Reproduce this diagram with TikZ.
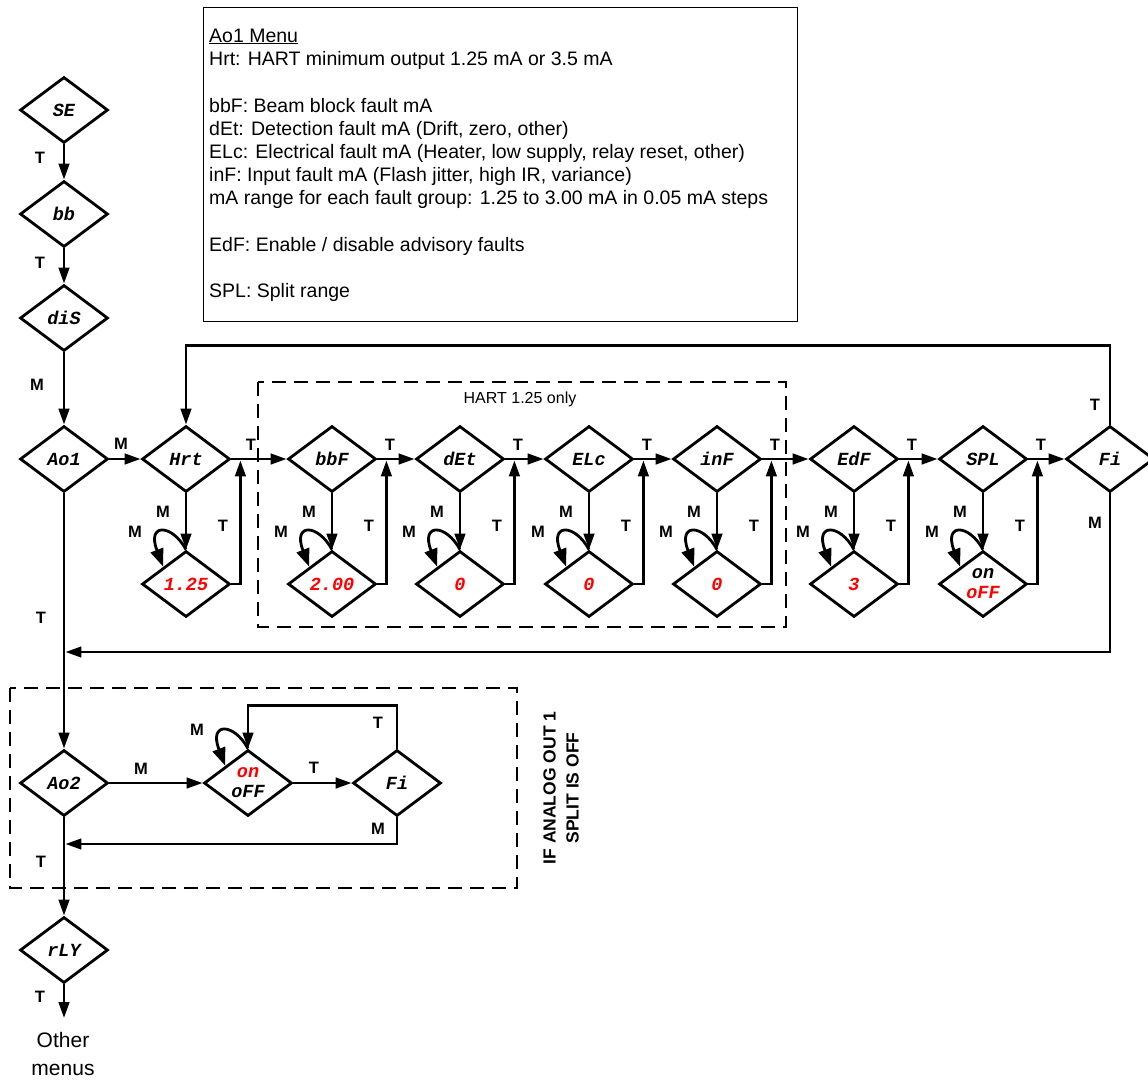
\documentclass[tikz,border=0pt]{standalone}
\usepackage{fontspec}
\setmainfont{Liberation Sans}
\newfontfamily\dmono{Liberation Mono}
\usetikzlibrary{shapes.geometric,arrows.meta,calc}
\definecolor{vred}{RGB}{255,0,0}
\tikzset{
  dia/.style={diamond, draw, line width=2.8pt, minimum width=88pt, minimum height=66pt, inner sep=0pt,
    font=\dmono\bfseries\itshape\fontsize{18.5}{20}\selectfont},
  dlab/.style={align=center, inner sep=0pt, font=\dmono\bfseries\itshape\fontsize{18.5}{20}\selectfont},
  arr/.style={line width=2.8pt, -{Triangle[length=16pt,width=10.5pt]}},
  loopa/.style={line width=2.8pt, -{Triangle[length=18pt,width=13pt]}},
  lbl/.style={font=\bfseries\fontsize{16.5}{16.5}\selectfont, inner sep=0pt},
  dbox/.style={draw, line width=2pt, dash pattern=on 14pt off 8pt},
  mtext/.style={anchor=base west, inner sep=0pt, font=\fontsize{19.5}{23}\selectfont},
}
\begin{document}
\begin{tikzpicture}[x=1pt,y=-1pt]
\useasboundingbox (0,0) rectangle (1148,1080);

% dashed boxes
\draw[dbox] (258,382) rectangle (786,627);
\node[font=\fontsize{16}{16}\selectfont, inner sep=0pt] (hartlbl) at (520,399) {HART 1.25 only};
\draw[dbox] (10,688) rectangle (517,888);
\node[rotate=90, align=center, inner sep=0pt, font=\bfseries\fontsize{17.5}{23}\selectfont] (iflbl) at (561,788) {IF ANALOG OUT 1\\SPLIT IS OFF};

% menu text box
\node[draw, line width=1.2pt, minimum width=594pt, minimum height=314pt, anchor=north west, inner sep=0pt] (menubox) at (203,7) {};
\node[mtext] (t1) at (209,42) {\underline{Ao1 Menu}};
\node[mtext] (t2) at (209,65) {Hrt: HART minimum output 1.25 mA or 3.5 mA};
\node[mtext] (t3) at (209,112) {bbF: Beam block fault mA};
\node[mtext] (t4) at (209,135) {dEt: Detection fault mA (Drift, zero, other)};
\node[mtext] (t5) at (209,158) {ELc: Electrical fault mA (Heater, low supply, relay reset, other)};
\node[mtext] (t6) at (209,181) {inF: Input fault mA (Flash jitter, high IR, variance)};
\node[mtext] (t7) at (209,204) {mA range for each fault group: 1.25 to 3.00 mA in 0.05 mA steps};
\node[mtext] (t8) at (209,251) {EdF: Enable / disable advisory faults};
\node[mtext] (t9) at (209,297) {SPL: Split range};

% left column
\node[dia] (SE) at (64,110) {SE};
\node[dia] (bb) at (64,214) {bb};
\node[dia] (diS) at (64,318) {diS};
\node[dia] (Ao1) at (64,459) {Ao1};

% main row
\node[dia] (Hrt) at (186,459) {Hrt};
\node[dia] (bbF) at (332,459) {bbF};
\node[dia] (dEt) at (460,459) {dEt};
\node[dia] (ELc) at (589,459) {ELc};
\node[dia] (inF) at (717,459) {inF};
\node[dia] (EdF) at (854,459) {EdF};
\node[dia] (SPL) at (983,459) {SPL};
\node[dia] (Fi) at (1110,459) {Fi};

% value row
\node[dia, text=vred] (s1) at (186,584) {1.25};
\node[dia, text=vred] (s2) at (332,584) {2.00};
\node[dia, text=vred] (s3) at (460,584) {0};
\node[dia, text=vred] (s4) at (589,584) {0};
\node[dia, text=vred] (s5) at (717,584) {0};
\node[dia, text=vred] (s6) at (854,584) {3};
\node[dia] (s7) at (983,584) {};
\node[dlab] (s7t) at (s7) {on\\\textcolor{vred}{oFF}};

% Ao2 section
\node[dia] (Ao2) at (64,783) {Ao2};
\node[dia] (oo) at (248,783) {};
\node[dlab] (oot) at (oo) {\textcolor{vred}{on}\\oFF};
\node[dia] (Fi2) at (397,783) {Fi};
\node[dia] (rLY) at (64,950) {rLY};

% connectors left column
\draw[arr] (SE.south) -- (bb.north);
\draw[arr] (bb.south) -- (diS.north);
\draw[arr] (diS.south) -- (Ao1.north);
\draw[arr] (Ao1.south) -- (Ao2.north);

% main row connectors
\foreach \a/\b in {Ao1/Hrt, Hrt/bbF, bbF/dEt, dEt/ELc, ELc/inF, inF/EdF, EdF/SPL, SPL/Fi}
  \draw[arr] (\a.east) -- (\b.west);

\foreach \m/\s in {Hrt/s1, bbF/s2, dEt/s3, ELc/s4, inF/s5, EdF/s6, SPL/s7} {
  \draw[arr] (\m.south) -- (\s.north);
  \draw[loopa] (\s.north) .. controls +(-14,-26) and +(-17,-44) .. ($(\s.north)!0.5!(\s.west)$);
  \draw[arr] (\s.east) -| ($(\m.east)+(9,1.4)$);
  \node[lbl] (Mv\m) at ($(\m)+(-23,53)$) {M};
  \node[lbl] (Tv\m) at ($(\m)+(37,67)$) {T};
  \node[lbl] (Ml\m) at ($(\m)+(-51,73)$) {M};
}
\foreach \m in {bbF,dEt,ELc,inF,EdF,SPL}
  \node[lbl] (Tr\m) at ($(\m)+(58,-14)$) {T};

% big loops
\draw[arr] (Fi.north) -- ++(0,-79) -| (Hrt.north);
\coordinate (j1) at (65.4,652);
\draw[arr] (Fi.south) |- (j1);

% Ao2 section connectors
\draw[arr] (Ao2.east) -- (oo.west);
\draw[arr] (oo.east) -- (Fi2.west);
\draw[arr] (Fi2.north) -- ++(0,-43) -| (oo.north);
\draw[loopa] (oo.north) .. controls +(-14,-26) and +(-17,-44) .. ($(oo.north)!0.5!(oo.west)$);
\coordinate (j2) at (65.4,844);
\draw[arr] (Fi2.south) |- (j2);
\draw[arr] (Ao2.south) -- (rLY.north);
\coordinate (om) at (64,1018);
\draw[arr] (rLY.south) -- (om);
\node[align=center, inner sep=0pt, font=\fontsize{21}{28}\selectfont] (other) at (63,1054) {Other\\menus};

% single labels
\node[lbl] (L1) at (40,158) {T};
\node[lbl] (L2) at (40,263) {T};
\node[lbl] (L3) at (37,385) {M};
\node[lbl] (L4) at (121,444) {M};
\node[lbl] (L5) at (251,445) {T};
\node[lbl] (L6) at (41,618) {T};
\node[lbl] (L7) at (1095,405) {T};
\node[lbl] (L8) at (1095,523) {M};
\node[lbl] (L9) at (197,730) {M};
\node[lbl] (L10) at (378,723) {T};
\node[lbl] (L11) at (141,769) {M};
\node[lbl] (L12) at (314,768) {T};
\node[lbl] (L13) at (378,829) {M};
\node[lbl] (L14) at (41,862) {T};
\node[lbl] (L15) at (40,997) {T};
\end{tikzpicture}
\end{document}
